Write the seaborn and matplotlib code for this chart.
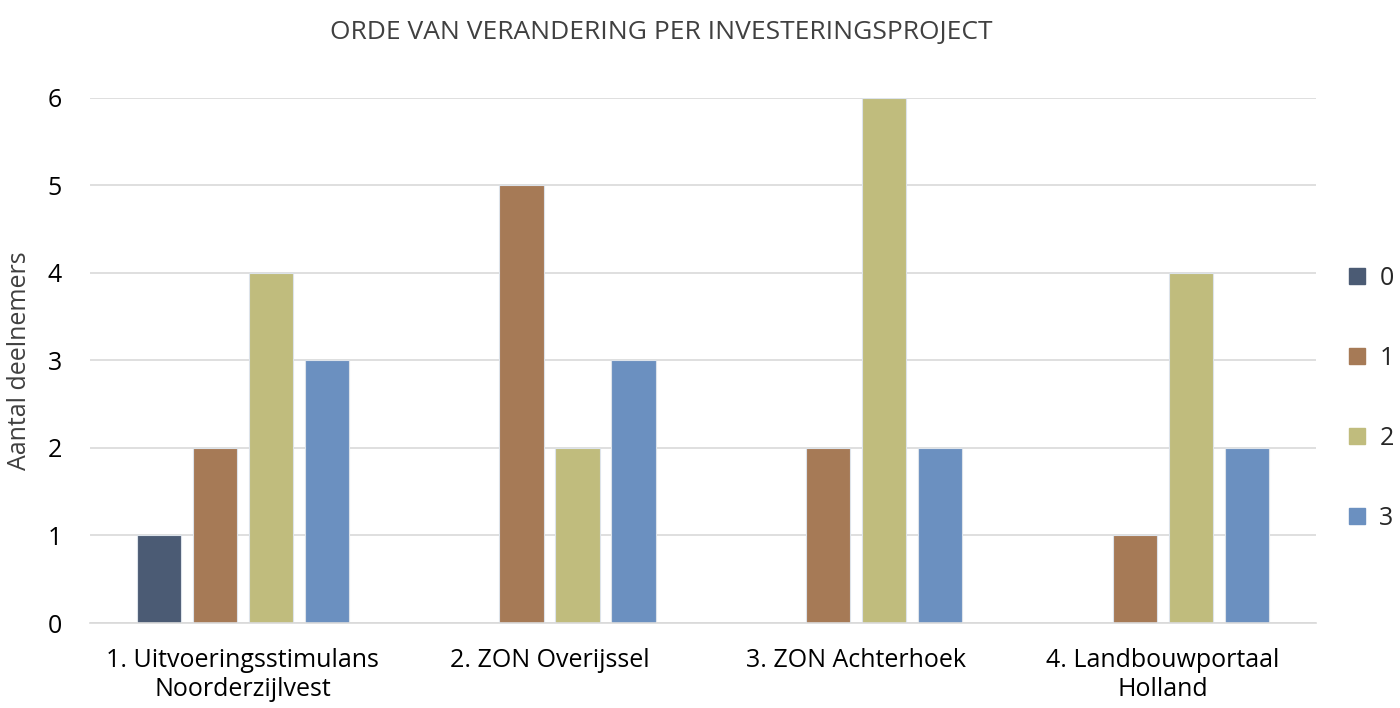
import matplotlib
matplotlib.use("Agg")
import matplotlib.pyplot as plt
import pandas as pd
import seaborn as sns
from matplotlib.lines import Line2D

# ── Data ──────────────────────────────────────────────────────────────────────
PROJECTS = [
    "1. Uitvoeringsstimulans\nNoorderzijlvest",
    "2. ZON Overijssel",
    "3. ZON Achterhoek",
    "4. Landbouwportaal\nHolland",
]
ORDERS = ["0", "1", "2", "3"]
COUNTS_0 = [1, 0, 0, 0]
COUNTS_1 = [2, 5, 2, 1]
COUNTS_2 = [4, 2, 6, 4]
COUNTS_3 = [3, 3, 2, 2]
COLORS = ["#4b5b74", "#a67a56", "#c0bc7d", "#6b90c0"]

rows = []
for order, counts in zip(ORDERS, [COUNTS_0, COUNTS_1, COUNTS_2, COUNTS_3]):
    for proj, c in zip(PROJECTS, counts):
        if c > 0:
            rows.append({"project": proj, "orde": order, "aantal": c})
df = pd.DataFrame(rows)

# ── Plot ──────────────────────────────────────────────────────────────────────
sns.set_style("white")
plt.rcParams["font.family"] = ["Open Sans", "DejaVu Sans"]

fig, ax = plt.subplots(figsize=(14, 7.08), dpi=100)
sns.barplot(
    data=df, x="project", y="aantal", hue="orde",
    order=PROJECTS, hue_order=ORDERS, palette=COLORS, saturation=1,
    width=0.73, gap=0.21, edgecolor="#dde3ea", linewidth=0.8,
    legend=False, ax=ax,
)

ax.set_xlim(-0.5, 3.5)
ax.set_ylim(0, 6)
ax.set_yticks(range(7))
ax.yaxis.grid(True, color="#d9d9d9", linewidth=1.2)
ax.set_axisbelow(True)
for s in ["top", "right", "left"]:
    ax.spines[s].set_visible(False)
ax.spines["bottom"].set_color("#d9d9d9")
ax.spines["bottom"].set_linewidth(1.2)
ax.tick_params(axis="both", length=0, labelsize=18, colors="black")
ax.tick_params(axis="y", pad=20)
ax.tick_params(axis="x", pad=18)
for lbl in ax.get_xticklabels():
    lbl.set_linespacing(1.2)
ax.set_xlabel("")
ax.set_ylabel("Aantal deelnemers", fontsize=18, color="#404040")
ax.yaxis.set_label_coords(-0.047, 0.5)
ax.set_title("ORDE VAN VERANDERING PER INVESTERINGSPROJECT",
             fontsize=19, color="#404040", pad=42, x=0.466)

handles = [Line2D([], [], marker="s", linestyle="", markersize=12,
                  markerfacecolor=c, markeredgecolor=c) for c in COLORS]
ax.legend(handles, ORDERS, loc="center left", bbox_to_anchor=(1.015, 0.428),
          frameon=False, fontsize=18, labelspacing=2.2, handletextpad=0.4,
          handlelength=1.0, borderaxespad=0)

fig.subplots_adjust(left=0.064, right=0.94, top=0.862, bottom=0.12)
fig.savefig("out.png", dpi=100)
